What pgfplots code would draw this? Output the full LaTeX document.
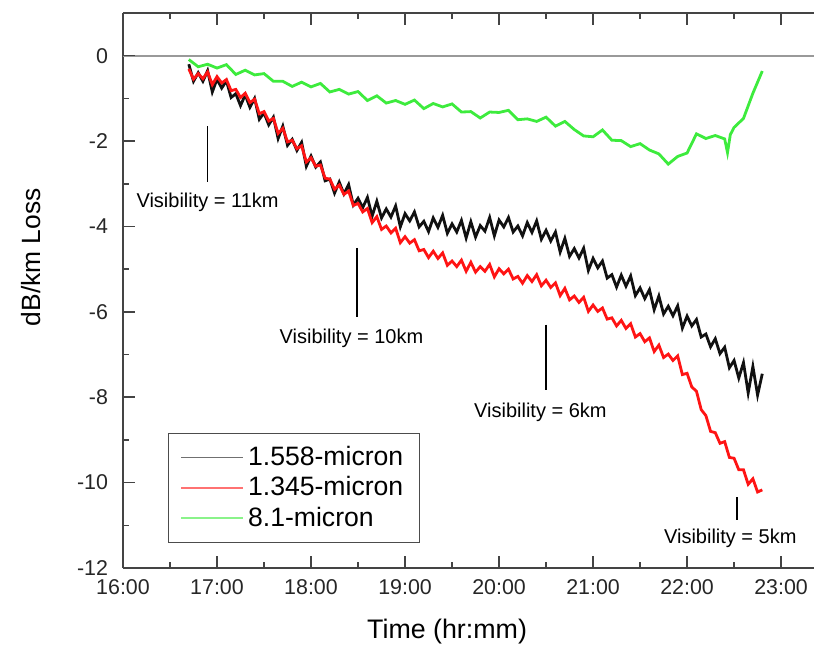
\documentclass[border=0pt]{standalone}
\usepackage{fontspec}
\setmainfont{Liberation Sans}
\usepackage{pgfplots}
\pgfplotsset{compat=1.18}

\definecolor{trBlack}{HTML}{111111}
\definecolor{trRed}{HTML}{FF1414}
\definecolor{trGreen}{HTML}{3DEB3D}
\definecolor{axGray}{HTML}{444444}

\begin{document}
\begin{tikzpicture}
\begin{axis}[
  name=ax,
  scale only axis,
  width=345.5pt, height=277.5pt,
  xmin=16, xmax=23.35, ymin=-12, ymax=1,
  axis x line=box, axis y line=left,
  axis line style={-, draw=axGray, line width=1pt},
  tick align=inside,
  tick style={axGray, line width=0.8pt},
  major tick length=6pt, minor tick length=3pt,
  xtick={16,...,23},
  xticklabels={16:00,17:00,18:00,19:00,20:00,21:00,22:00,23:00},
  minor x tick num=1,
  ytick={-12,-10,...,0},
  yticklabels={-12,-10,-8,-6,-4,-2,0},
  minor y tick num=1,
  extra y ticks={0}, extra y tick labels={},
  extra y tick style={grid=major, major grid style={black!40, line width=1pt}},
  ticklabel style={font=\fontsize{10.7}{12}\selectfont, text=black!85},
  yticklabel style={xshift=-4pt},
  xticklabel style={yshift=-2pt},
  xlabel={Time (hr:mm)},
  ylabel={dB/km Loss},
  every axis x label/.style={at={(axis description cs:0.469,0)}, yshift=-32pt, anchor=center, font=\fontsize{13.4}{15}\selectfont},
  every axis y label/.style={at={(axis description cs:0,0.56)}, xshift=-46pt, rotate=90, anchor=center, font=\fontsize{13.2}{15}\selectfont},
  legend style={at={(0.065,0.045)}, anchor=south west, draw=black!70, line width=0.75pt,
    font=\fontsize{13.3}{16}\selectfont, inner xsep=6pt, inner ysep=4.5pt, row sep=0pt, cells={anchor=west}},
  legend image code/.code={\draw[#1, line width=0.7pt, opacity=0.6] (0pt,0pt) -- (31pt,0pt);},
]

% 1.558-micron
\addplot[trBlack, line width=1.4pt] coordinates {
(16.70,-0.20) (16.75,-0.60) (16.80,-0.40) (16.85,-0.60) (16.90,-0.35) (16.95,-0.85)
(17.00,-0.55) (17.05,-0.76) (17.10,-0.59) (17.15,-0.98) (17.20,-0.89) (17.25,-1.17)
(17.30,-0.92) (17.35,-1.21) (17.40,-1.00) (17.45,-1.49) (17.50,-1.34) (17.55,-1.62)
(17.60,-1.44) (17.65,-1.94) (17.70,-1.65) (17.75,-2.10) (17.80,-1.96) (17.85,-2.22)
(17.90,-2.03) (17.95,-2.59) (18.00,-2.35) (18.05,-2.61) (18.10,-2.49) (18.15,-2.93)
(18.20,-2.89) (18.25,-3.22) (18.30,-2.96) (18.35,-3.24) (18.40,-3.02) (18.45,-3.50)
(18.50,-3.34) (18.55,-3.56) (18.60,-3.32) (18.65,-3.76) (18.70,-3.41) (18.75,-3.80)
(18.80,-3.59) (18.85,-3.78) (18.90,-3.52) (18.95,-4.01) (19.00,-3.70) (19.05,-3.87)
(19.10,-3.66) (19.15,-4.01) (19.20,-3.88) (19.25,-4.12) (19.30,-3.80) (19.35,-4.02)
(19.40,-3.74) (19.45,-4.16) (19.50,-3.94) (19.55,-4.13) (19.60,-3.86) (19.65,-4.27)
(19.70,-3.89) (19.75,-4.25) (19.80,-3.98) (19.85,-4.11) (19.90,-3.79) (19.95,-4.22)
(20.00,-3.85) (20.05,-4.01) (20.10,-3.79) (20.15,-4.13) (20.20,-3.99) (20.25,-4.22)
(20.30,-3.91) (20.35,-4.14) (20.40,-3.87) (20.45,-4.30) (20.50,-4.09) (20.55,-4.34)
(20.60,-4.13) (20.65,-4.60) (20.70,-4.28) (20.75,-4.70) (20.80,-4.52) (20.85,-4.74)
(20.90,-4.51) (20.95,-5.03) (21.00,-4.75) (21.05,-4.97) (21.10,-4.81) (21.15,-5.21)
(21.20,-5.13) (21.25,-5.42) (21.30,-5.14) (21.35,-5.40) (21.40,-5.16) (21.45,-5.62)
(21.50,-5.44) (21.55,-5.69) (21.60,-5.48) (21.65,-5.95) (21.70,-5.63) (21.75,-6.05)
(21.80,-5.87) (21.85,-6.09) (21.90,-5.86) (21.95,-6.38) (22.00,-6.10) (22.05,-6.33)
(22.10,-6.18) (22.15,-6.59) (22.20,-6.52) (22.25,-6.82) (22.30,-6.63) (22.35,-6.98)
(22.40,-6.83) (22.45,-7.31) (22.50,-7.14) (22.55,-7.55) (22.60,-7.19) (22.65,-7.90)
(22.70,-7.28) (22.75,-7.95) (22.80,-7.45)
};
\addlegendentry{1.558-micron}

% 1.345-micron
\addplot[trRed, line width=1.4pt] coordinates {
(16.70,-0.31) (16.75,-0.55) (16.80,-0.42) (16.85,-0.54) (16.90,-0.38) (16.95,-0.68)
(17.00,-0.49) (17.05,-0.64) (17.10,-0.56) (17.15,-0.82) (17.20,-0.79) (17.25,-0.98)
(17.30,-0.88) (17.35,-1.10) (17.40,-1.02) (17.45,-1.36) (17.50,-1.31) (17.55,-1.53)
(17.60,-1.47) (17.65,-1.82) (17.70,-1.70) (17.75,-2.02) (17.80,-1.98) (17.85,-2.18)
(17.90,-2.11) (17.95,-2.49) (18.00,-2.39) (18.05,-2.59) (18.10,-2.56) (18.15,-2.87)
(18.20,-2.89) (18.25,-3.13) (18.30,-3.03) (18.35,-3.25) (18.40,-3.17) (18.45,-3.51)
(18.50,-3.46) (18.55,-3.66) (18.60,-3.58) (18.65,-3.91) (18.70,-3.77) (18.75,-4.07)
(18.80,-3.99) (18.85,-4.15) (18.90,-4.04) (18.95,-4.38) (19.00,-4.24) (19.05,-4.39)
(19.10,-4.31) (19.15,-4.57) (19.20,-4.54) (19.25,-4.73) (19.30,-4.58) (19.35,-4.75)
(19.40,-4.62) (19.45,-4.91) (19.50,-4.81) (19.55,-4.94) (19.60,-4.79) (19.65,-5.05)
(19.70,-4.84) (19.75,-5.07) (19.80,-4.94) (19.85,-5.05) (19.90,-4.89) (19.95,-5.18)
(20.00,-4.99) (20.05,-5.11) (20.10,-5.00) (20.15,-5.23) (20.20,-5.17) (20.25,-5.33)
(20.30,-5.15) (20.35,-5.29) (20.40,-5.13) (20.45,-5.39) (20.50,-5.26) (20.55,-5.43)
(20.60,-5.32) (20.65,-5.62) (20.70,-5.45) (20.75,-5.72) (20.80,-5.63) (20.85,-5.78)
(20.90,-5.66) (20.95,-5.99) (21.00,-5.84) (21.05,-5.99) (21.10,-5.91) (21.15,-6.17)
(21.20,-6.14) (21.25,-6.33) (21.30,-6.20) (21.35,-6.39) (21.40,-6.28) (21.45,-6.59)
(21.50,-6.51) (21.55,-6.70) (21.60,-6.61) (21.65,-6.93) (21.70,-6.78) (21.75,-7.07)
(21.80,-6.99) (21.85,-7.14) (21.90,-7.03) (21.95,-7.47) (22.00,-7.44) (22.05,-7.76)
(22.10,-7.86) (22.15,-8.29) (22.20,-8.43) (22.25,-8.80) (22.30,-8.83) (22.35,-9.08)
(22.40,-9.04) (22.45,-9.41) (22.50,-9.43) (22.55,-9.70) (22.60,-9.70) (22.65,-10.04)
(22.70,-9.91) (22.75,-10.22) (22.80,-10.17)
};
\addlegendentry{1.345-micron}

% 8.1-micron
\addplot[trGreen, line width=1.4pt] coordinates {
(16.70,-0.09) (16.80,-0.26) (16.90,-0.20) (17.00,-0.29) (17.10,-0.21) (17.20,-0.44)
(17.30,-0.34) (17.40,-0.45) (17.50,-0.42) (17.60,-0.60) (17.70,-0.60) (17.80,-0.72)
(17.90,-0.62) (18.00,-0.73) (18.10,-0.65) (18.20,-0.85) (18.30,-0.79) (18.40,-0.90)
(18.50,-0.84) (18.60,-1.05) (18.70,-0.94) (18.80,-1.11) (18.90,-1.05) (19.00,-1.14)
(19.10,-1.04) (19.20,-1.24) (19.30,-1.12) (19.40,-1.20) (19.50,-1.13) (19.60,-1.32)
(19.70,-1.31) (19.80,-1.46) (19.90,-1.32) (20.00,-1.33) (20.10,-1.28) (20.20,-1.50)
(20.30,-1.48) (20.40,-1.54) (20.50,-1.44) (20.60,-1.65) (20.70,-1.54) (20.80,-1.73)
(20.90,-1.88) (21.00,-1.90) (21.10,-1.74) (21.20,-1.98) (21.30,-1.99) (21.40,-2.13)
(21.50,-2.06) (21.60,-2.21) (21.70,-2.30) (21.80,-2.54) (21.90,-2.36) (22.00,-2.28)
(22.10,-1.83) (22.20,-1.94) (22.30,-1.87) (22.40,-1.95) (22.43,-2.27) (22.46,-1.85)
(22.50,-1.68) (22.60,-1.47) (22.70,-0.88) (22.80,-0.36)
};
\addlegendentry{8.1-micron}

% visibility annotations
\draw[black, line width=0.8pt] (axis cs:16.90,-1.65) -- (axis cs:16.90,-2.97);
\node[font=\fontsize{10}{12}\selectfont] at (axis cs:16.90,-3.44) {Visibility = 11km};
\draw[black, line width=0.8pt] (axis cs:18.49,-4.50) -- (axis cs:18.49,-6.11);
\node[font=\fontsize{10}{12}\selectfont] at (axis cs:18.43,-6.61) {Visibility = 10km};
\draw[black, line width=0.8pt] (axis cs:20.50,-6.30) -- (axis cs:20.50,-7.83);
\node[font=\fontsize{10}{12}\selectfont] at (axis cs:20.44,-8.35) {Visibility = 6km};
\draw[black, line width=0.8pt] (axis cs:22.53,-10.34) -- (axis cs:22.53,-10.88);
\node[font=\fontsize{10}{12}\selectfont] at (axis cs:22.46,-11.30) {Visibility = 5km};
\end{axis}
\pgfresetboundingbox
\path[use as bounding box] ([shift={(-61.5pt,-39pt)}]ax.south west) rectangle ([shift={(0pt,6.5pt)}]ax.north east);
\end{tikzpicture}
\end{document}
